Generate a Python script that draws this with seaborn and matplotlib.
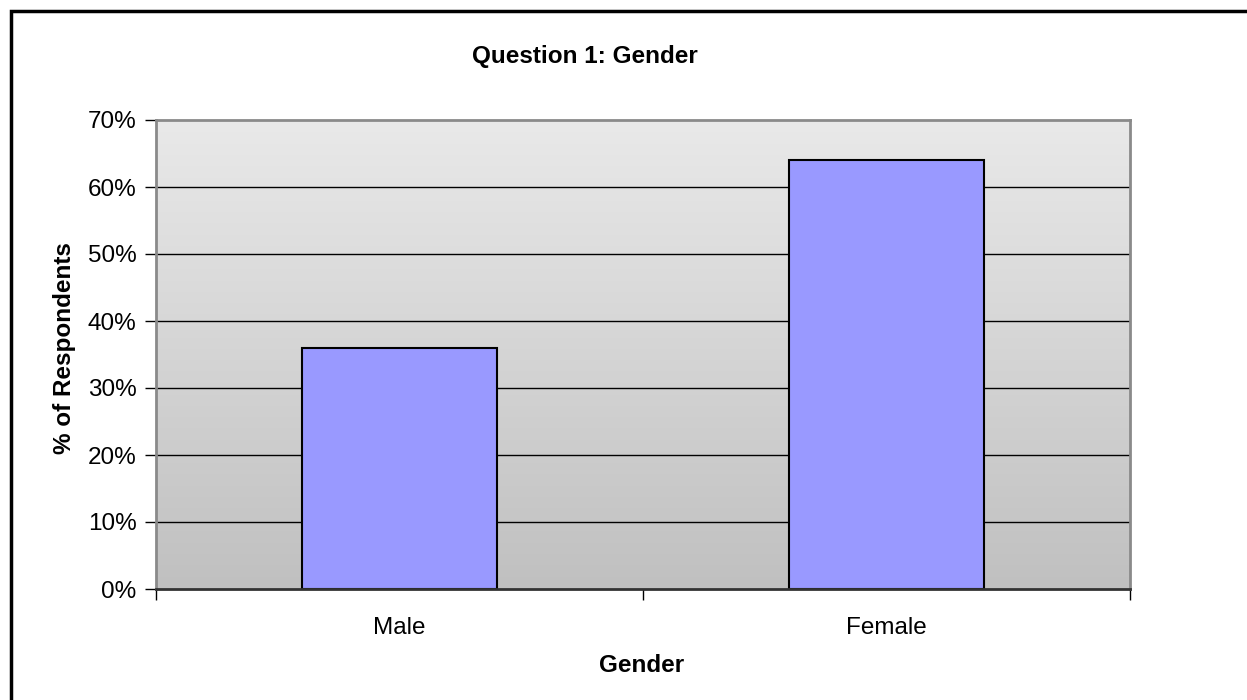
import matplotlib
matplotlib.use("Agg")
import matplotlib.pyplot as plt
import matplotlib.patches as mpatches
from matplotlib.colors import LinearSegmentedColormap
from matplotlib.ticker import FixedLocator, FuncFormatter
import numpy as np
import pandas as pd
import seaborn as sns

# Survey data: share of respondents by gender
categories = ["Male", "Female"]
percent_respondents = [36, 64]
y_ticks = [0, 10, 20, 30, 40, 50, 60, 70]

title = "Question 1: Gender"
x_label = "Gender"
y_label = "% of Respondents"

df = pd.DataFrame({"Gender": categories, "Percent": percent_respondents})

sns.set_theme(style="white")
plt.rcParams["font.family"] = ["Liberation Sans", "DejaVu Sans"]
plt.rcParams["text.color"] = "black"
plt.rcParams["xtick.color"] = "black"
plt.rcParams["ytick.color"] = "black"
plt.rcParams["axes.labelcolor"] = "black"

fig = plt.figure(figsize=(12.47, 7.0), dpi=100)
fig.patch.set_facecolor("white")
ax = fig.add_axes([156 / 1247, 1 - 589 / 700, (1130 - 156) / 1247, (589 - 120) / 700])

sns.barplot(data=df, x="Gender", y="Percent", order=categories, width=0.4,
            color="#9999FF", saturation=1, edgecolor="black", linewidth=1.5,
            ax=ax, zorder=3)

# Vertical grey gradient behind the plot area
grad = np.linspace(0, 1, 256).reshape(-1, 1)
cmap = LinearSegmentedColormap.from_list("bg", ["#c0c0c0", "#e9e9e9"])
ax.imshow(grad, extent=(-0.5, 1.5, 0, 70), origin="lower", aspect="auto",
          cmap=cmap, zorder=0)
ax.set_xlim(-0.5, 1.5)
ax.set_ylim(0, 70)

# Horizontal gridlines
for v in y_ticks[1:-1]:
    ax.axhline(v, color="black", linewidth=1.0, zorder=1)

ax.yaxis.set_major_locator(FixedLocator(y_ticks))
ax.yaxis.set_major_formatter(FuncFormatter(lambda v, p: f"{v:.0f}%"))
ax.tick_params(axis="y", which="major", length=8, width=1, color="black",
               labelcolor="black", direction="out", pad=6, labelsize=17.5,
               left=True)

ax.set_xticks([0, 1])
ax.set_xticklabels(categories)
ax.tick_params(axis="x", which="major", length=0, pad=20, labelsize=17.5,
               labelcolor="black")
ax.set_xticks([-0.5, 0.5, 1.5], minor=True)
ax.tick_params(axis="x", which="minor", length=8, width=1, color="black",
               direction="out", bottom=True)

for side in ["top", "right", "left"]:
    ax.spines[side].set_color("#8a8a8a")
    ax.spines[side].set_linewidth(2)
    ax.spines[side].set_visible(True)
ax.spines["bottom"].set_color("#333333")
ax.spines["bottom"].set_linewidth(2)
ax.spines["bottom"].set_visible(True)
for s in ax.spines.values():
    s.set_zorder(4)

ax.set_xlabel("")
ax.set_ylabel("")

fig.text(585 / 1247, 1 - 56 / 700, title, ha="center", va="center",
         fontsize=17.5, fontweight="bold", color="black")
fig.text(642 / 1247, 1 - 666 / 700, x_label, ha="center", va="center",
         fontsize=17.5, fontweight="bold", color="black")
fig.text(64 / 1247, 1 - 348 / 700, y_label, ha="center", va="center",
         rotation=90, fontsize=17.5, fontweight="bold", color="black")

# Outer chart frame
frame = mpatches.Rectangle((10.5 / 1247, -0.1), 2.0, (700 - 10.5) / 700 + 0.1,
                           transform=fig.transFigure, fill=False,
                           edgecolor="black", linewidth=2.5, clip_on=False)
fig.patches.append(frame)

fig.savefig("out.png", dpi=100)
